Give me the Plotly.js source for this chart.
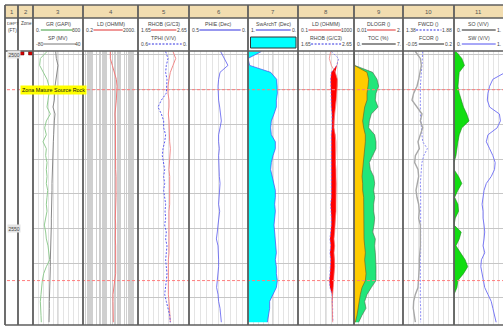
<!DOCTYPE html>
<html>
<head>
<meta charset="utf-8">
<script src="https://cdn.plot.ly/plotly-3.0.1.min.js"></script>
<style>
  html, body { margin: 0; padding: 0; background: #fff; }
  #chart { width: 503px; height: 326px; }
</style>
</head>
<body>
<div id="chart"></div>
<script>
// ---- Log samples (every 2 ft) ----
const depth = [2499,2501,2503,2505,2507,2509,2511,2513,2515,2517,2519,2521,2523,2525,2527,2529,2531,2533,2535,2537,
               2539,2541,2543,2545,2547,2549,2551,2553,2555,2557,2559,2561,2563,2565,2567,2569,2571,2573,2575,2577];

const gr    = [84,44,40,60,84,96,96,90,84,104,80,70,80,60,80,76,84,80,84,80,88,84,80,84,76,68,76,80,90,96,100,80,64,56,50,48,44,44,48,50];
const sp    = [-25.6,-24,-20,-22.4,-25.6,-27.2,-28,-28.8,-32,-27.2,-28.8,-30.4,-30.4,-31.2,-32,-32,-32.8,-33.6,-33.6,-34.4,
               -34.4,-35.2,-35.2,-36,-36,-36,-36.8,-36.8,-37.6,-37.6,-38.4,-38.4,-39.2,-40,-40,-40,-40.8,-40.8,-41.6,-41.6];
const ld    = [19.4,19.4,27.2,40.2,53.1,59.4,59.4,53.1,47.5,42.4,44.9,44.9,47.5,47.5,42.4,44.9,44.9,47.5,50.2,53.1,
               50.2,50.2,47.5,47.5,44.9,47.5,44.9,44.9,47.5,47.5,44.9,50.2,47.5,40.2,34.0,30.4,30.4,30.4,30.4,32.1];
const rhob  = [2.336,2.389,2.336,2.284,2.258,2.238,2.238,2.258,2.258,2.245,2.258,2.258,2.258,2.271,2.284,2.271,2.271,2.258,2.271,2.271,
               2.284,2.271,2.271,2.258,2.258,2.271,2.271,2.258,2.271,2.258,2.245,2.245,2.238,2.232,2.232,2.245,2.258,2.271,2.284,2.284];
const tphi  = [.275,.247,.267,.275,.259,.259,.267,.325,.365,.325,.298,.298,.275,.286,.306,.314,.298,.286,.298,.286,
               .298,.286,.275,.282,.275,.286,.267,.275,.259,.267,.275,.267,.259,.267,.275,.286,.267,.247,.227,.220];
const phie  = [.232,.204,.170,.237,.249,.254,.254,.249,.240,.232,.226,.237,.249,.249,.243,.249,.249,.249,.243,.237,
               .240,.243,.249,.240,.249,.254,.260,.268,.254,.249,.249,.249,.254,.260,.266,.254,.249,.237,.232,.226];
const swArch = [.733,1.0,.967,.547,.427,.413,.413,.433,.433,.48,.533,.547,.533,.453,.453,.50,.533,.547,.52,.48,
                .453,.453,.467,.453,.467,.48,.467,.453,.453,.433,.453,.433,.433,.413,.433,.50,.567,.567,.587,.613];
const ldOverlay   = [21.5,17.3,24.0,46.4,64.5,64.5,57.8,54.7,46.4,41.6,37.3,37.3,46.4,51.8,51.8,46.4,46.4,51.8,51.8,54.7,
                     57.8,54.7,51.8,51.8,46.4,46.4,41.6,37.3,41.6,37.3,41.6,41.6,37.3,37.3,33.4,29.9,26.8,28.3,28.3,29.9];
const rhobOverlay = [2.245,2.376,2.34,2.245,2.233,2.233,2.233,2.245,2.245,2.257,2.263,2.257,2.245,2.245,2.245,2.257,2.257,2.257,2.257,2.245,
                     2.245,2.245,2.233,2.245,2.245,2.245,2.233,2.221,2.233,2.221,2.233,2.233,2.221,2.21,2.221,2.257,2.269,2.269,2.269,2.275];
const toc   = [0,0,.048,1.857,2.095,2.0,1.857,1.857,1.524,1.381,1.238,1.381,1.619,1.619,1.524,1.381,1.238,1.143,1.143,1.238,
               1.238,1.381,1.381,1.333,1.381,1.381,1.381,1.429,1.524,1.619,1.524,1.619,1.714,1.619,1.143,.905,.762,.667,.429,.19];
const dlogr = [.01,.01,.037,.768,.944,1.012,.903,.876,.985,.714,.633,.606,.849,.903,.903,.768,.633,.673,.809,.849,
               .809,.849,.809,.809,.849,.822,.768,.876,.849,.876,.903,.903,.903,.903,.714,.538,.443,.497,.335,.2];
const fwcd  = [1.573,1.573,1.566,1.560,1.553,1.550,1.550,1.553,1.550,1.550,1.553,1.560,1.566,1.573,1.619,1.583,1.566,1.560,1.553,1.550,
               1.553,1.553,1.553,1.557,1.560,1.560,1.560,1.560,1.560,1.553,1.550,1.550,1.547,1.543,1.543,1.547,1.550,1.553,1.553,1.553];
const fcor  = [.0105,.035,.0399,.035,.0268,.0186,.0023,-.0059,.0186,.0431,.035,.0464,.035,.0235,.0301,.0105,.0072,.0235,.0268,.0203,
               .0137,.0186,.0268,.0301,.0268,.035,.0366,.035,.035,.0317,.0301,.0301,.0268,.0268,.0235,.0105,.0023,.0006,.0072,.0105];
const so    = [.04,.16,.213,.107,.093,.08,.107,.147,.193,.26,.307,.16,.107,.08,.067,.04,0,0,.093,.16,
               .08,.013,.08,.093,.027,0,.147,.107,.04,.127,.227,.28,.193,.08,.06,0,0,0,0,0];
const sw    = [1.05,1.05,1.05,1.05,.793,.727,.693,.68,.727,.927,.947,.88,.693,.66,.727,.793,.84,.827,.76,.66,
               .613,.593,.573,.593,.593,.613,.627,.613,.593,.627,.56,.547,.573,.593,.627,.693,.76,.793,.827,.86];

// Formation markers and depth labels
const markerDepths = [2510, 2565];
const markerName = 'Zona Mature Source Rock';
const depthLabels = [2500, 2550];
const depthRange = [2577.8, 2498.85];

// Header: track numbers and curve scales (row 0 = upper, row 1 = lower)
const trackNumbers = ['1','2','3','4','5','6','7','8','9','10','11'];
const headerCurves = [
  [],
  [],
  [{name:'GR (GAPI)', lo:'0.', hi:'300', color:'#3a9a3a', dash:'solid'},
   {name:'SP (MV)', lo:'-80', hi:'40', color:'#777777', dash:'solid'}],
  [{name:'LD (OHMM)', lo:'0.2', hi:'2000.', color:'#e03030', dash:'solid'}],
  [{name:'RHOB (G/C3)', lo:'1.65', hi:'2.65', color:'#e03030', dash:'solid'},
   {name:'TPHI (V/V)', lo:'0.6', hi:'0.', color:'#3030e0', dash:'2px,1.5px'}],
  [{name:'PHIE (Dec)', lo:'0.5', hi:'0.', color:'#3030e0', dash:'solid'}],
  [{name:'SwArchT (Dec)', lo:'1.', hi:'0.', color:'#3030e0', dash:'solid'}],
  [{name:'LD (OHMM)', lo:'0.1', hi:'1000', color:'#e03030', dash:'solid'},
   {name:'RHOB (G/C3)', lo:'1.65', hi:'2.65', color:'#3030e0', dash:'2px,1.5px'}],
  [{name:'DLOGR ()', lo:'0.01', hi:'2.', color:'#e03030', dash:'solid'},
   {name:'TOC (%)', lo:'0.', hi:'7.', color:'#222222', dash:'solid'}],
  [{name:'FWCD ()', lo:'1.38', hi:'1.88', color:'#3030e0', dash:'2px,1.5px'},
   {name:'FCOR ()', lo:'-0.05', hi:'0.2', color:'#222222', dash:'solid'}],
  [{name:'SO (V/V)', lo:'0.', hi:'1.', color:'#222222', dash:'solid'},
   {name:'SW (V/V)', lo:'0.', hi:'1.', color:'#5050f0', dash:'solid'}]
];

// ---- Page geometry (pixels) ----
const W = 503, H = 326;
const px = v => v / W;
const py = v => 1 - v / H;
const edges = [5, 18, 33, 83, 138, 189, 248, 298, 354, 403, 454, 503];
const TOP = 5, ROW1 = 18, DATA_TOP = 51, BOTTOM = 325;
const yDomain = [py(BOTTOM), py(DATA_TOP)];
const dom = i => [px(edges[i]), px(edges[i + 1])];
const FONT = 'Liberation Sans, Arial, sans-serif';
const SHORT_DASH = '2px,1.5px';

function gridAxis(track, range, dtick, extra) {
  return Object.assign({
    domain: dom(track), range: range, anchor: 'y',
    showticklabels: false, ticks: '', showline: false, zeroline: false,
    showgrid: true, gridcolor: '#e4e4e4', gridwidth: 1,
    dtick: dtick, tick0: Math.min(range[0], range[1])
  }, extra || {});
}
function overAxis(base, track, range, type) {
  return { overlaying: base, domain: dom(track), anchor: 'y', range: range, type: type || 'linear',
           visible: false, showgrid: false, zeroline: false };
}

// ---- Traces ----
const traces = [];
function curve(x, xaxis, color, width, dash) {
  traces.push({ type: 'scatter', mode: 'lines', x: x, y: depth, xaxis: xaxis, yaxis: 'y',
                line: { color: color, width: width, dash: dash || 'solid' }, hoverinfo: 'skip' });
}
function area(x, y, xaxis, color) {
  traces.push({ type: 'scatter', mode: 'lines', x: x, y: y, xaxis: xaxis, yaxis: 'y',
                fill: 'toself', fillcolor: color, line: { width: 0, color: color }, hoverinfo: 'skip' });
}
const rev = a => a.slice().reverse();
const first = depth[0], last = depth[depth.length - 1];

// Track 3: GR + SP
curve(gr, 'x', '#93cc93', 1);
curve(sp, 'x2', '#888888', 1);

// Track 4: deep resistivity (log)
curve(ld, 'x3', '#f27a7a', 1);

// Track 5: density / neutron
curve(rhob, 'x4', '#f28a8a', 1);
curve(tphi, 'x5', '#5a5af0', 1, SHORT_DASH);

// Track 6: effective porosity
curve(phie, 'x6', '#5a5af0', 0.8);

// Track 7: water saturation, shaded from Sw = 1
area([1].concat(swArch, [1]), [first].concat(depth, [last]), 'x7', '#00ffff');
curve(swArch, 'x7', '#4a4af0', 0.7);

// Track 8: resistivity vs density crossover, expressed in RHOB units
const ldInRhob = ldOverlay.map(v => 1.65 + (Math.log10(v) + 1) / 4 * (2.65 - 1.65));
const crossEdge = rhobOverlay.map((r, i) => Math.max(r, ldInRhob[i]));
area(rhobOverlay.concat(rev(crossEdge)), depth.concat(rev(depth)), 'x8', '#ff0000');
curve(ldOverlay, 'x9', '#f07070', 0.7);
curve(rhobOverlay, 'x8', '#6a6af0', 0.7, SHORT_DASH);

// Track 9: DLOGR (green) behind TOC (yellow), DLOGR expressed in TOC units
const dlogrInToc = dlogr.map(v => (v - 0.01) / (2 - 0.01) * 7);
area([0].concat(dlogrInToc, [0]), [first].concat(depth, [last]), 'x10', '#22e67a');
area([0].concat(toc, [0]), [first].concat(depth, [last]), 'x10', '#ffcc00');
curve(dlogrInToc, 'x10', '#4a6a4a', 0.6);
curve(toc, 'x10', '#6a5a20', 0.6);

// Track 10: FWCD / FCOR
curve(fcor, 'x13', '#a8a8a8', 1.4);
curve(fwcd, 'x12', '#8a8af5', 1, SHORT_DASH);

// Track 11: oil saturation shading and water saturation
area([0].concat(so, [0]), [first].concat(depth, [last]), 'x14', '#11dd11');
curve(so, 'x14', '#1a8a1a', 0.6);
curve(sw, 'x15', '#7a7af5', 1);

// ---- Shapes ----
const shapes = [];
const line = (x0, y0, x1, y1, color, width, dash, extra) =>
  shapes.push(Object.assign({ type: 'line', xref: 'paper', yref: 'paper', x0: x0, y0: y0, x1: x1, y1: y1,
                              line: { color: color, width: width, dash: dash || 'solid' } }, extra || {}));

// header band
shapes.push({ type: 'rect', xref: 'paper', yref: 'paper', x0: px(edges[0]), x1: 1, y0: py(ROW1), y1: py(TOP),
              fillcolor: '#f2ddb0', line: { width: 0 }, layer: 'below' });

// darker centre line of each linear track
['x', 'x4', 'x6', 'x7', 'x8', 'x10', 'x12', 'x14'].forEach(ax => {
  shapes.push({ type: 'line', xref: ax + ' domain', yref: 'paper', x0: 0.5, x1: 0.5, y0: yDomain[0], y1: yDomain[1],
                line: { color: '#b4b4b4', width: 1 }, layer: 'between' });
});

// formation markers
markerDepths.forEach(d => {
  shapes.push({ type: 'line', xref: 'paper', yref: 'y', x0: px(7), x1: 1, y0: d, y1: d,
                line: { color: '#ff7c7c', width: 1, dash: '3px,2px' } });
});

// zone flags at the top of the zone track
shapes.push({ type: 'rect', xref: 'paper', yref: 'y', x0: px(19.5), x1: px(24), y0: depthRange[1] + 0.2, y1: 2500,
              fillcolor: '#d40000', line: { color: '#600000', width: 0.5 } });
shapes.push({ type: 'rect', xref: 'paper', yref: 'y', x0: px(28.5), x1: px(32.5), y0: depthRange[1] + 0.2, y1: 2500,
              fillcolor: '#d40000', line: { color: '#600000', width: 0.5 } });

// table frame
const frame = '#5e5e5e';
edges.slice(0, -1).forEach(x => line(px(x), py(BOTTOM), px(x), py(TOP), frame, 1.8));
[TOP, ROW1, DATA_TOP, BOTTOM].forEach(y => line(px(edges[0]), py(y), 1, py(y), frame, 1.6));

// header scale lines and the Sw shading swatch
const annotations = [];
const CH = 2.65; // approx. glyph width of the small header font
const text = (t, x, y, xanchor, size, color, extra) =>
  annotations.push(Object.assign({ text: t, x: x, y: y, xref: 'paper', yref: 'paper', xanchor: xanchor, yanchor: 'middle',
                                   showarrow: false, borderpad: 0,
                                   font: { family: FONT, size: size, color: color } }, extra || {}));

trackNumbers.forEach((n, i) => text(n, px((edges[i] + edges[i + 1]) / 2), py(11.5), 'center', 6, '#555'));

text('DEPT', px(6), py(23.5), 'left', 4.4, '#444');
text('(FT)', px(6.5), py(30.5), 'left', 4.6, '#444');
text('Zone', px(19.5), py(23.5), 'left', 4.6, '#444');

headerCurves.forEach((list, i) => {
  const x0 = edges[i], x1 = edges[i + 1];
  list.forEach((c, r) => {
    const yName = r === 0 ? 24 : 38, yLine = r === 0 ? 30 : 44;
    text(c.name, px((x0 + x1) / 2), py(yName), 'center', 5.2, '#444');
    text(c.lo, px(x0 + 1.5), py(yLine), 'left', 5, '#444');
    text(c.hi, px(x1 - 1), py(yLine), 'right', 5, '#444');
    const a = x0 + 2.5 + c.lo.length * CH, b = x1 - 2 - c.hi.length * CH;
    line(px(a), py(yLine), px(b), py(yLine), c.color, 1, c.dash);
  });
});
shapes.push({ type: 'rect', xref: 'paper', yref: 'paper', x0: px(250.5), x1: px(296), y0: py(48), y1: py(37),
              fillcolor: '#00ffff', line: { color: '#333', width: 1 } });

// depth labels
depthLabels.forEach(d => annotations.push({
  text: String(d), x: px(7), y: d, xref: 'paper', yref: 'y', xanchor: 'left', yanchor: 'middle',
  showarrow: false, bgcolor: '#e4e4e4', borderpad: 0.5, font: { family: FONT, size: 5, color: '#444' }
}));

// formation name
annotations.push({
  text: markerName, x: px(20), y: markerDepths[0], xref: 'paper', yref: 'y', xanchor: 'left', yanchor: 'middle',
  showarrow: false, bgcolor: '#ffff00', borderpad: 1, font: { family: FONT, size: 5.4, color: '#111' }
});

// ---- Layout ----
const layout = {
  width: W, height: H, margin: { l: 0, r: 0, t: 0, b: 0 },
  paper_bgcolor: '#ffffff', plot_bgcolor: '#ffffff', showlegend: false,
  font: { family: FONT },
  yaxis: { domain: yDomain, range: depthRange, anchor: 'x', showticklabels: false, ticks: '',
           showline: false, zeroline: false, showgrid: true, gridcolor: '#c6c6c6', gridwidth: 1,
           dtick: 10, tick0: 2500 },
  xaxis:   gridAxis(2, [0, 300], 30),
  xaxis2:  overAxis('x', 2, [-80, 40]),
  xaxis3:  gridAxis(3, [Math.log10(0.2), Math.log10(2000)], 'D1', { type: 'log', tick0: undefined, gridcolor: '#cfcfcf' }),
  xaxis4:  gridAxis(4, [1.65, 2.65], 0.1),
  xaxis5:  overAxis('x4', 4, [0.6, 0]),
  xaxis6:  gridAxis(5, [0.5, 0], 0.05),
  xaxis7:  gridAxis(6, [1, 0], 0.1),
  xaxis8:  gridAxis(7, [1.65, 2.65], 0.1),
  xaxis9:  overAxis('x8', 7, [-1, 3], 'log'),
  xaxis10: gridAxis(8, [0, 7], 0.7),
  xaxis11: overAxis('x10', 8, [0.01, 2]),
  xaxis12: gridAxis(9, [1.38, 1.88], 0.05),
  xaxis13: overAxis('x12', 9, [-0.05, 0.2]),
  xaxis14: gridAxis(10, [0, 1], 0.1),
  xaxis15: overAxis('x14', 10, [0, 1]),
  shapes: shapes,
  annotations: annotations
};

Plotly.newPlot('chart', traces, layout, { staticPlot: true, displayModeBar: false });
</script>
</body>
</html>
